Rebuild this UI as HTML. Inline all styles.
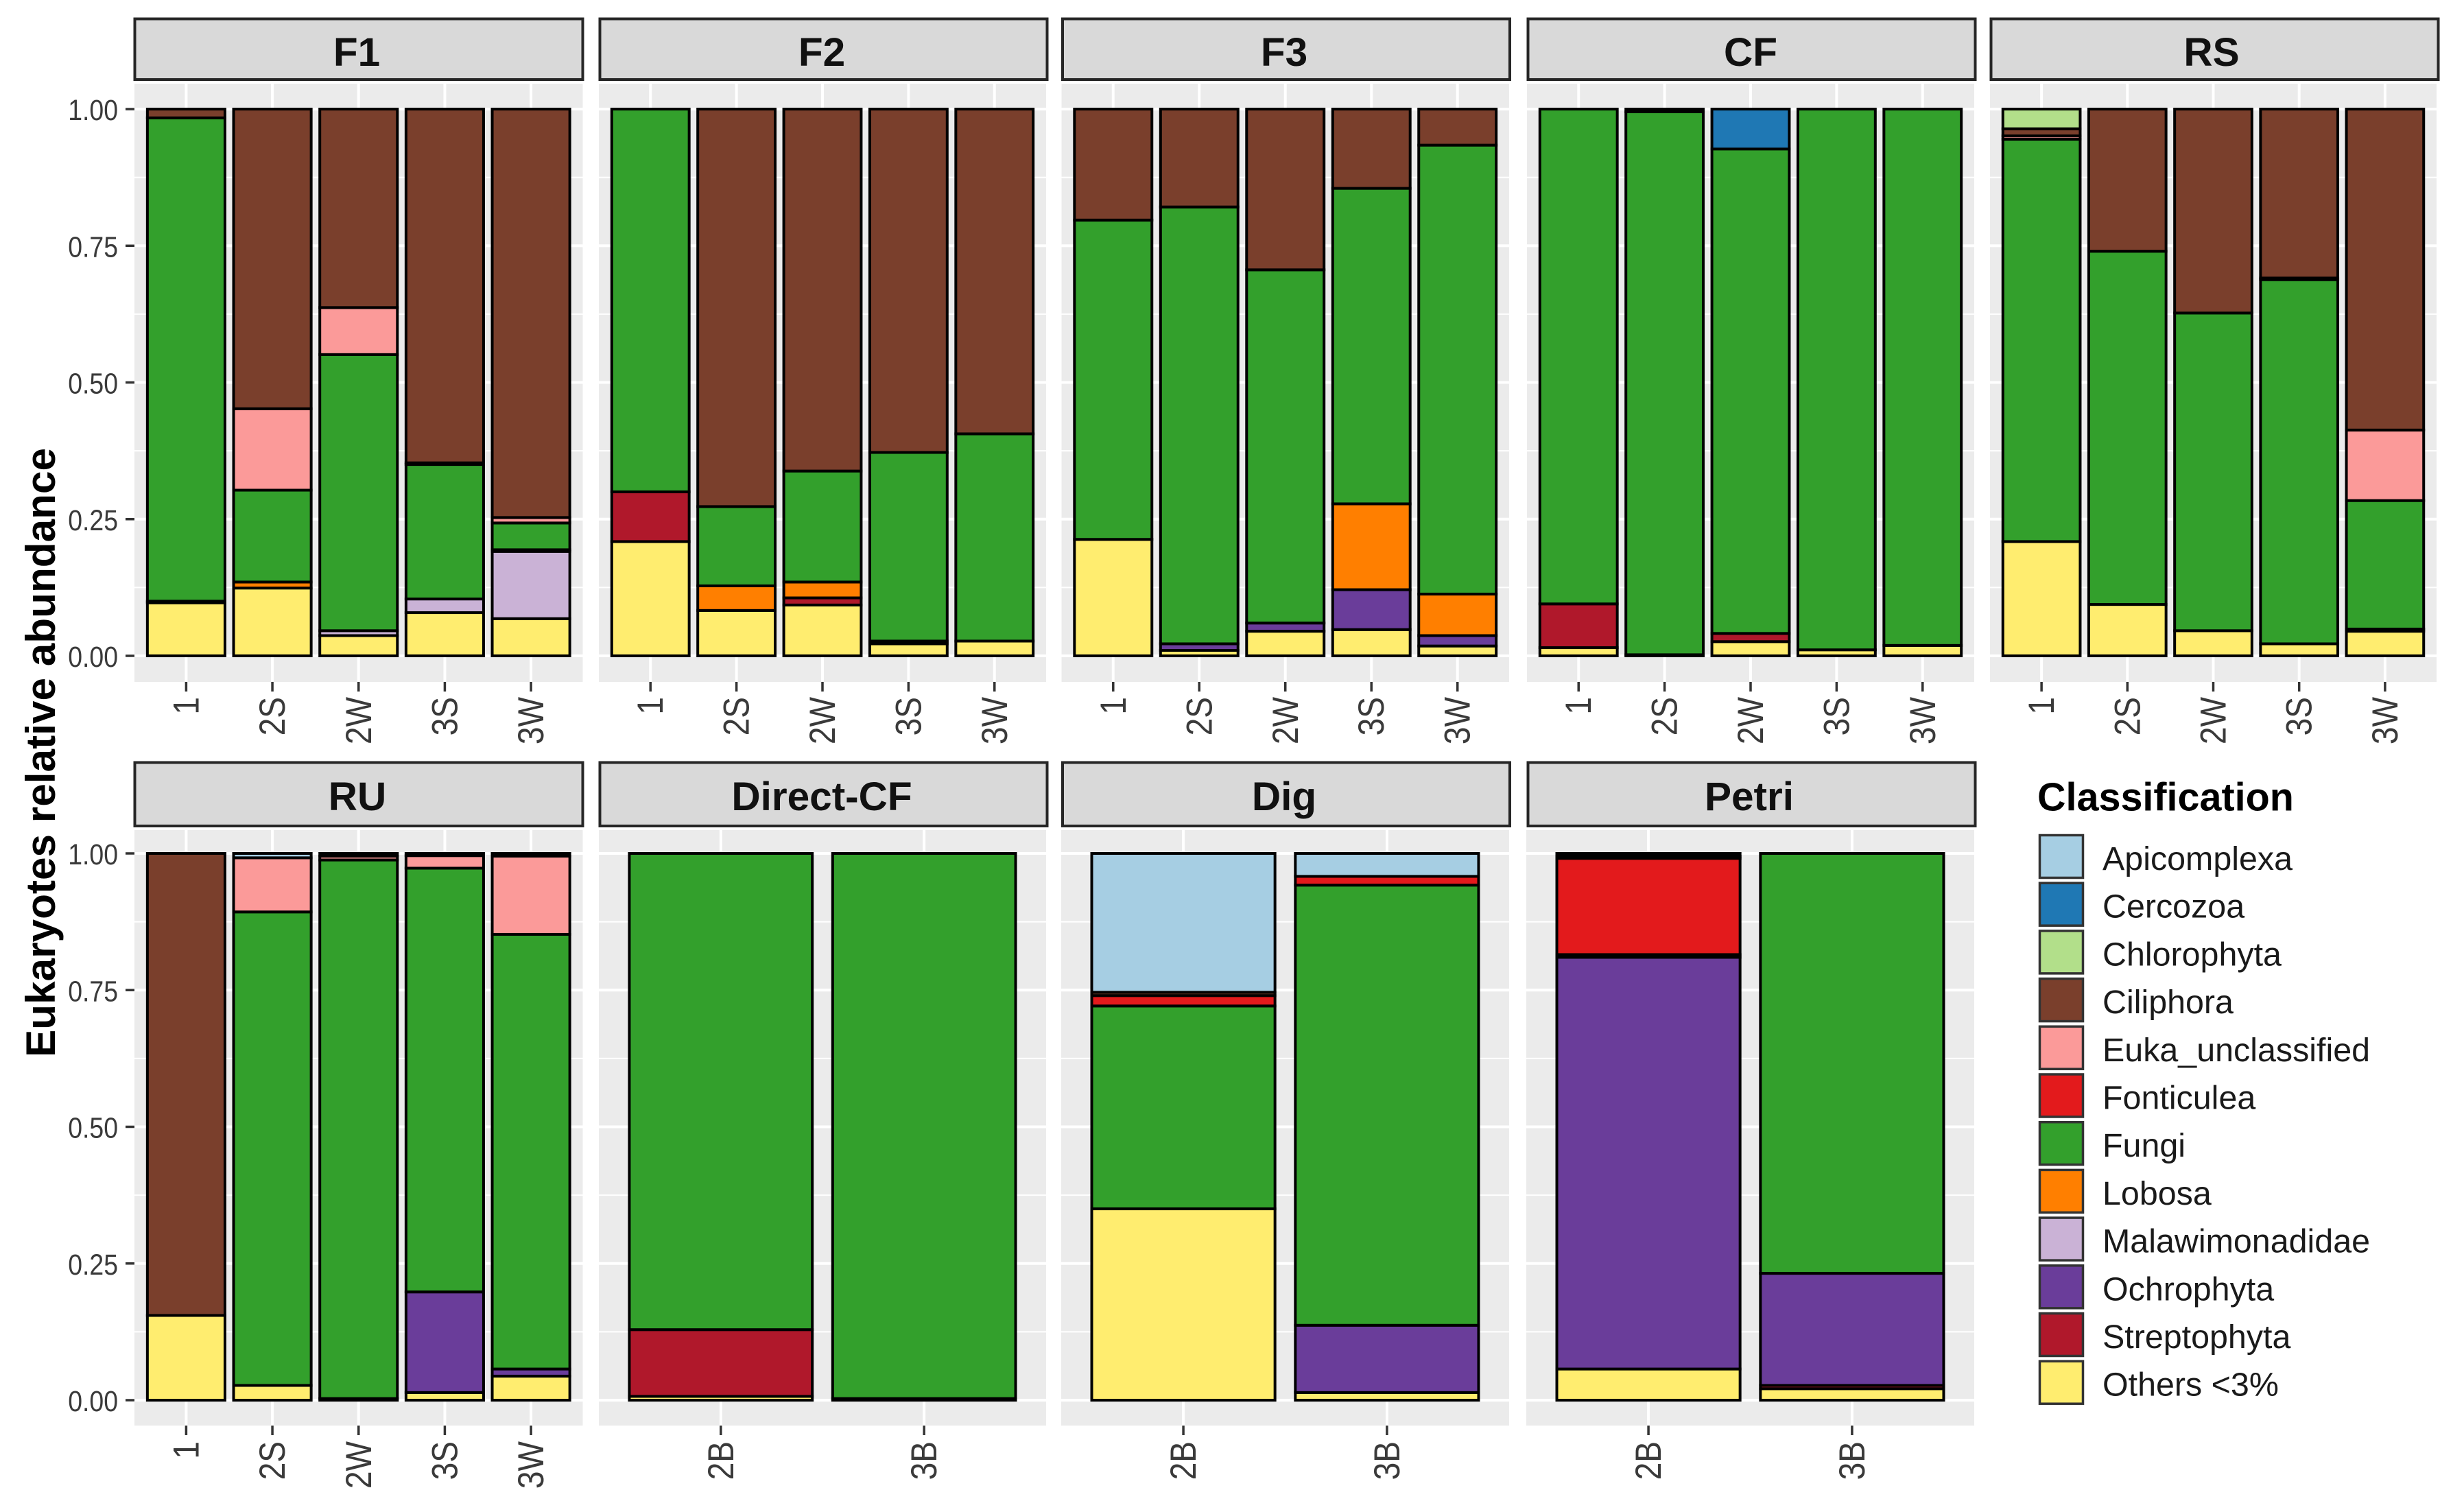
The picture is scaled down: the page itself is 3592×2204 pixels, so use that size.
<!DOCTYPE html>
<html lang="en">
<head>
<meta charset="utf-8">
<title>Eukaryotes relative abundance</title>
<style>
html,body{margin:0;padding:0;background:#fff}
svg{display:block}
text{font-family:"Liberation Sans",sans-serif}
.strip{fill:#D9D9D9;stroke:#262626;stroke-width:4}
.strip-text{font-size:58.5px;font-weight:bold;fill:#111;text-anchor:middle}
.legend-text{font-size:48.4px;fill:#1a1a1a}
.key{stroke:#333;stroke-width:3.5}
</style>
</head>
<body>
<svg id="chart" xmlns="http://www.w3.org/2000/svg" width="3592" height="2204" viewBox="0 0 3592 2204">
<rect width="3592" height="2204" fill="#fff"/>

<g id="panels"></g>

<g>
<rect class="strip" x="196.5" y="27.5" width="653" height="88.5"/>
<rect class="strip" x="874.5" y="27.5" width="652" height="88.5"/>
<rect class="strip" x="1549" y="27.5" width="652" height="88.5"/>
<rect class="strip" x="2227.5" y="27.5" width="652" height="88.5"/>
<rect class="strip" x="2902.5" y="27.5" width="652" height="88.5"/>
<rect class="strip" x="196.5" y="1111.5" width="653" height="92.5"/>
<rect class="strip" x="874.5" y="1111.5" width="652" height="92.5"/>
<rect class="strip" x="1549" y="1111.5" width="652" height="92.5"/>
<rect class="strip" x="2227.5" y="1111.5" width="652" height="92.5"/>
<text class="strip-text" x="520" y="96">F1</text>
<text class="strip-text" x="1198" y="96">F2</text>
<text class="strip-text" x="1872" y="96">F3</text>
<text class="strip-text" x="2552" y="96">CF</text>
<text class="strip-text" x="3224" y="96">RS</text>
<text class="strip-text" x="521" y="1181">RU</text>
<text class="strip-text" x="1198" y="1181">Direct-CF</text>
<text class="strip-text" x="1872" y="1181">Dig</text>
<text class="strip-text" x="2550" y="1181">Petri</text>
</g>

<text transform="translate(80,1097) rotate(-90)" text-anchor="middle" font-size="60.3" font-weight="bold" fill="#000">Eukaryotes relative abundance</text>

<g>
<text x="2970" y="1181.5" font-size="57.5" font-weight="bold" fill="#000">Classification</text>
<g><rect class="key" x="2973.5" y="1217.5" width="63" height="62" fill="#A6CEE3"/><text class="legend-text" x="3065" y="1268">Apicomplexa</text></g>
<g><rect class="key" x="2973.5" y="1287.2" width="63" height="62" fill="#1F78B4"/><text class="legend-text" x="3065" y="1337.7">Cercozoa</text></g>
<g><rect class="key" x="2973.5" y="1356.9" width="63" height="62" fill="#B2DF8A"/><text class="legend-text" x="3065" y="1407.4">Chlorophyta</text></g>
<g><rect class="key" x="2973.5" y="1426.6" width="63" height="62" fill="#7A3F2C"/><text class="legend-text" x="3065" y="1477.1">Ciliphora</text></g>
<g><rect class="key" x="2973.5" y="1496.3" width="63" height="62" fill="#FB9A99"/><text class="legend-text" x="3065" y="1546.8">Euka_unclassified</text></g>
<g><rect class="key" x="2973.5" y="1566" width="63" height="62" fill="#E31A1C"/><text class="legend-text" x="3065" y="1616.5">Fonticulea</text></g>
<g><rect class="key" x="2973.5" y="1635.7" width="63" height="62" fill="#33A02C"/><text class="legend-text" x="3065" y="1686.2">Fungi</text></g>
<g><rect class="key" x="2973.5" y="1705.4" width="63" height="62" fill="#FF7F00"/><text class="legend-text" x="3065" y="1755.9">Lobosa</text></g>
<g><rect class="key" x="2973.5" y="1775.1" width="63" height="62" fill="#CAB2D6"/><text class="legend-text" x="3065" y="1825.6">Malawimonadidae</text></g>
<g><rect class="key" x="2973.5" y="1844.8" width="63" height="62" fill="#6A3D9A"/><text class="legend-text" x="3065" y="1895.3">Ochrophyta</text></g>
<g><rect class="key" x="2973.5" y="1914.5" width="63" height="62" fill="#B0182B"/><text class="legend-text" x="3065" y="1965">Streptophyta</text></g>
<g><rect class="key" x="2973.5" y="1984.2" width="63" height="62" fill="#FFED6F"/><text class="legend-text" x="3065" y="2034.7">Others &lt;3%</text></g>
</g>
</svg>

<script>
// Stack order, bottom to top; every sample row below follows this column order.
const classNames = ['Others','Streptophyta','Ochrophyta','Malawimonadidae','Lobosa','Fungi','Fonticulea','Euka_unclassified','Ciliphora','Chlorophyta','Cercozoa','Apicomplexa'];
const classColors = ['#FFED6F','#B0182B','#6A3D9A','#CAB2D6','#FF7F00','#33A02C','#E31A1C','#FB9A99','#7A3F2C','#B2DF8A','#1F78B4','#A6CEE3'];

const sampleCategories = ['1','2S','2W','3S','3W'];
const batchCategories = ['2B','3B'];

const yTickValues = [0,0.25,0.5,0.75,1];
const yTickLabels = ['0.00','0.25','0.50','0.75','1.00'];
const yMinorValues = [0.125,0.375,0.625,0.875];

const f1Values = [
 [.097,0,0,.003,0,.884,0,0,.016,0,0,0],
 [.124,0,0,0,.011,.168,0,.149,.548,0,0,0],
 [.037,0,0,.009,0,.505,0,.086,.363,0,0,0],
 [.079,0,0,.025,0,.246,0,.003,.647,0,0,0],
 [.068,0,0,.123,.003,.049,0,.010,.747,0,0,0]
];
const f2Values = [
 [.209,.091,0,0,0,.700,0,0,0,0,0,0],
 [.083,0,0,0,.045,.145,0,0,.727,0,0,0],
 [.093,.013,0,0,.029,.203,0,0,.662,0,0,0],
 [.022,0,.005,0,0,.345,0,0,.628,0,0,0],
 [.027,0,0,0,0,.379,0,0,.594,0,0,0]
];
const f3Values = [
 [.213,0,0,0,0,.584,0,0,.203,0,0,0],
 [.010,0,.012,0,0,.799,0,0,.179,0,0,0],
 [.045,0,.015,0,0,.646,0,0,.294,0,0,0],
 [.048,0,.073,0,.157,.577,0,0,.145,0,0,0],
 [.018,0,.019,0,.076,.821,0,0,.066,0,0,0]
];
const cfValues = [
 [.015,.080,0,0,0,.905,0,0,0,0,0,0],
 [.002,0,0,0,0,.993,0,0,.005,0,0,0],
 [.026,.015,0,0,0,.886,0,0,0,0,.073,0],
 [.011,0,0,0,0,.989,0,0,0,0,0,0],
 [.019,0,0,0,0,.981,0,0,0,0,0,0]
];
const rsValues = [
 [.209,0,0,0,0,.736,0,.006,.013,.036,0,0],
 [.094,0,0,0,0,.646,0,0,.260,0,0,0],
 [.046,0,0,0,0,.581,0,0,.373,0,0,0],
 [.022,0,0,0,0,.666,0,.003,.309,0,0,0],
 [.045,0,.004,0,0,.235,0,.129,.587,0,0,0]
];
const ruValues = [
 [.155,0,0,0,0,0,0,0,.845,0,0,0],
 [.027,0,0,0,0,.866,0,.099,0,0,0,.008],
 [.003,0,0,0,0,.985,0,.007,.005,0,0,0],
 [.014,0,.184,0,0,.775,0,.023,.004,0,0,0],
 [.044,0,.013,0,0,.795,0,.143,.005,0,0,0]
];
const directCfValues = [
 [.007,.122,0,0,0,.871,0,0,0,0,0,0],
 [.003,0,0,0,0,.997,0,0,0,0,0,0]
];
const digValues = [
 [.350,0,0,0,0,.371,.019,0,.006,0,0,.254],
 [.014,0,.123,0,0,.805,.016,0,0,0,0,.042]
];
const petriValues = [
 [.057,0,.753,.005,0,0,.176,.004,.005,0,0,0],
 [.021,.006,.205,0,0,.768,0,0,0,0,0,0]
];

const panelNames = ['F1','F2','F3','CF','RS','RU','Direct-CF','Dig','Petri'];
const panelCategories = [sampleCategories,sampleCategories,sampleCategories,sampleCategories,sampleCategories,sampleCategories,batchCategories,batchCategories,batchCategories];
const panelValues = [f1Values,f2Values,f3Values,cfValues,rsValues,ruValues,directCfValues,digValues,petriValues];

// Layout
const columnEdges = [[196,849.5],[873,1525],[1547.5,2200],[2226,2878],[2901,3552],[196,849.5],[873,1525],[1547,2200],[2225,2878]];
const rowBoxes = [
 {top:122,bottom:994,y1:159,y0:956,labelTop:1016,showY:true},
 {top:1210,bottom:2078,y1:1244,y0:2041,labelTop:2101,showY:true}
];

const NS = 'http://www.w3.org/2000/svg';
const root = document.getElementById('panels');

function svgEl(tag, parent, attrs){
  const el = document.createElementNS(NS, tag);
  for (const k in attrs) el.setAttribute(k, attrs[k]);
  parent.appendChild(el);
  return el;
}

panelNames.forEach(function(name, p){
  const edges = columnEdges[p];
  const box = rowBoxes[p < 5 ? 0 : 1];
  const cats = panelCategories[p];
  const vals = panelValues[p];
  const slug = name.toLowerCase();
  const unit = (edges[1] - edges[0]) / (cats.length - 1 + 1.2);
  const xScale = function(i){ return edges[0] + (0.6 + i) * unit; };
  const yScale = function(v){ return box.y0 - v * (box.y0 - box.y1); };

  const g = svgEl('g', root, {});
  
  

  const bg = svgEl('rect', g, {x:edges[0], y:box.top, width:edges[1]-edges[0], height:box.bottom-box.top, fill:'#EBEBEB'});
  
  

  yMinorValues.forEach(function(v){
    const line = svgEl('line', g, {x1:edges[0], x2:edges[1], y1:yScale(v), y2:yScale(v), stroke:'#fff', 'stroke-width':2});
    
    
  });
  yTickValues.forEach(function(v){
    const line = svgEl('line', g, {x1:edges[0], x2:edges[1], y1:yScale(v), y2:yScale(v), stroke:'#fff', 'stroke-width':4});
    
    
  });
  cats.forEach(function(c, i){
    const line = svgEl('line', g, {x1:xScale(i), x2:xScale(i), y1:box.top, y2:box.bottom, stroke:'#fff', 'stroke-width':4});
    
    
  });

  vals.forEach(function(row, i){
    let cum = 0;
    row.forEach(function(v, k){
      if (v <= 0) return;
      const top = yScale(cum + v);
      const bottom = yScale(cum);
      const rect = svgEl('rect', g, {x:xScale(i) - 0.45*unit, y:top, width:0.9*unit, height:bottom-top, fill:classColors[k], stroke:'#000', 'stroke-width':4});
      
      
      cum += v;
    });
  });

  cats.forEach(function(c, i){
    const tick = svgEl('line', g, {x1:xScale(i), x2:xScale(i), y1:box.bottom, y2:box.bottom+14, stroke:'#333', 'stroke-width':3.5});
    
    
    const label = svgEl('text', g, {transform:'translate(' + (xScale(i)+18) + ',' + box.labelTop + ') rotate(-90) scale(0.87,1)', 'text-anchor':'end', 'font-size':53, fill:'#3a3a3a'});
    label.textContent = c;
    
    
  });

  if (p === 0 || p === 5) {
    yTickValues.forEach(function(v, i){
      const tick = svgEl('line', g, {x1:edges[0]-13, x2:edges[0], y1:yScale(v), y2:yScale(v), stroke:'#333', 'stroke-width':3.5});
      
      
      const label = svgEl('text', g, {transform:'translate(172,' + (yScale(v)+16) + ') scale(0.87,1)', 'text-anchor':'end', 'font-size':43, fill:'#3a3a3a'});
      label.textContent = yTickLabels[i];
      
      
    });
  }
});
</script>
</body>
</html>
